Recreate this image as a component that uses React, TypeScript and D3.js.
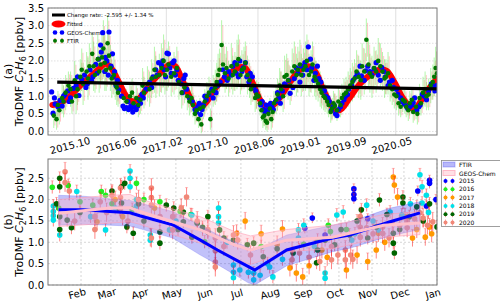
import React from 'react'
import * as d3 from 'd3'

// ---------- panel (a): time series ----------
const trendYears = [2015.51, 2020.94]
const trendValues = [1.4, 1.21]
const trendLabel = 'Change rate: -2.595 +/- 1.34 %'

const yearTicks = [2015.75, 2016.41, 2017.07, 2017.72, 2018.38, 2019.04, 2019.7, 2020.35]
const yearTickLabels = ['2015.10', '2016.06', '2017.02', '2017.10', '2018.06', '2019.01', '2019.09', '2020.05']
const ticksA = [0, 0.5, 1, 1.5, 2, 2.5, 3, 3.5]

// fitted curve [decimal year, ppbv]
const fitted: [number, number][] = [
  [2015.44, 0.75], [2015.55, 0.8], [2015.69, 1.0], [2015.84, 1.3], [2015.98, 1.55], [2016.12, 1.8],
  [2016.2, 1.92], [2016.28, 1.8], [2016.38, 1.45], [2016.48, 1.05], [2016.55, 0.88], [2016.62, 0.85],
  [2016.69, 0.95], [2016.84, 1.35], [2016.98, 1.65], [2017.12, 1.9], [2017.2, 1.85], [2017.3, 1.45],
  [2017.41, 0.95], [2017.48, 0.72], [2017.55, 0.68], [2017.65, 0.85], [2017.76, 1.2], [2017.9, 1.5],
  [2017.98, 1.65], [2018.12, 1.82], [2018.2, 1.8], [2018.3, 1.4], [2018.41, 0.9], [2018.5, 0.7],
  [2018.58, 0.72], [2018.69, 0.95], [2018.84, 1.4], [2018.98, 1.75], [2019.1, 1.85], [2019.2, 1.7],
  [2019.3, 1.25], [2019.41, 0.8], [2019.5, 0.58], [2019.58, 0.65], [2019.69, 0.95], [2019.84, 1.35],
  [2019.98, 1.6], [2020.12, 1.75], [2020.22, 1.72], [2020.33, 1.4], [2020.45, 0.95], [2020.55, 0.7],
  [2020.62, 0.64], [2020.72, 0.9], [2020.84, 1.25], [2020.94, 1.5]
]

// GEOS-Chem [decimal year, ppbv]
const geosChem: [number, number][] = [
  [2015.43, 1.12], [2015.45, 0.52], [2015.48, 0.78], [2015.52, 0.7], [2015.55, 0.88], [2015.58, 0.72],
  [2015.62, 1.05], [2015.66, 1.15], [2015.7, 0.95], [2015.74, 1.22], [2015.78, 1.3], [2015.82, 1.02],
  [2015.86, 1.48], [2015.9, 1.6], [2015.94, 1.35], [2015.98, 1.75], [2016.02, 1.55], [2016.06, 1.9],
  [2016.1, 2.05], [2016.13, 2.45], [2016.16, 2.8], [2016.19, 1.7], [2016.22, 2.0], [2016.25, 2.82],
  [2016.28, 1.85], [2016.31, 1.55], [2016.35, 1.3], [2016.39, 1.18], [2016.43, 1.0], [2016.47, 0.65],
  [2016.5, 0.68], [2016.53, 0.62], [2016.56, 0.72], [2016.59, 0.55], [2016.62, 0.7], [2016.66, 0.72],
  [2016.7, 0.8], [2016.74, 0.95], [2016.78, 1.2], [2016.83, 1.4], [2016.88, 1.55], [2016.92, 1.75],
  [2016.96, 1.95], [2017.0, 1.88], [2017.04, 1.75], [2017.08, 2.22], [2017.12, 1.8], [2017.16, 1.95],
  [2017.2, 1.6], [2017.24, 1.45], [2017.28, 1.35], [2017.32, 1.5], [2017.36, 1.2], [2017.4, 0.95],
  [2017.44, 0.85], [2017.48, 0.62], [2017.52, 0.7], [2017.56, 0.48], [2017.6, 0.75], [2017.64, 0.9],
  [2017.68, 1.05], [2017.72, 1.2], [2017.78, 1.1], [2017.84, 1.4], [2017.9, 1.55], [2017.96, 1.7],
  [2018.02, 1.85], [2018.07, 1.65], [2018.12, 2.0], [2018.17, 1.8], [2018.22, 1.55], [2018.27, 1.65],
  [2018.32, 1.25], [2018.37, 1.0], [2018.42, 0.75], [2018.46, 0.62], [2018.5, 0.75], [2018.54, 0.68],
  [2018.58, 0.7], [2018.63, 0.85], [2018.68, 0.95], [2018.73, 1.15], [2018.78, 1.3], [2018.84, 1.08],
  [2018.9, 1.5], [2018.95, 1.65], [2019.0, 1.85], [2019.05, 1.95], [2019.1, 2.4], [2019.15, 1.8],
  [2019.2, 1.65], [2019.25, 1.5], [2019.3, 1.2], [2019.35, 1.0], [2019.4, 0.85], [2019.45, 0.7],
  [2019.49, 0.5], [2019.53, 0.62], [2019.58, 0.8], [2019.63, 1.0], [2019.68, 1.2], [2019.74, 1.45],
  [2019.8, 1.65], [2019.86, 1.58], [2019.92, 1.72], [2019.98, 1.7], [2020.04, 1.78], [2020.1, 1.6],
  [2020.15, 1.82], [2020.2, 1.55], [2020.26, 1.4], [2020.32, 1.25], [2020.38, 1.05], [2020.44, 0.85],
  [2020.5, 0.72], [2020.55, 0.7], [2020.6, 0.82], [2020.65, 0.6], [2020.7, 0.75], [2020.76, 1.0],
  [2020.82, 1.15], [2020.88, 1.25], [2020.93, 1.3],
  [2015.47, 0.95], [2015.6, 1.0], [2015.68, 0.85], [2015.8, 1.55], [2015.92, 1.25], [2016.0, 1.45],
  [2016.08, 1.65], [2016.14, 2.25], [2016.2, 2.1], [2016.24, 1.6], [2016.3, 2.2], [2016.33, 1.7],
  [2016.37, 1.45], [2016.45, 0.72], [2016.52, 0.85], [2016.58, 0.68], [2016.64, 0.62], [2016.68, 0.9],
  [2016.72, 1.05], [2016.86, 1.25], [2016.94, 1.6], [2017.02, 2.0], [2017.06, 1.55], [2017.1, 2.2],
  [2017.14, 1.65], [2017.18, 2.0], [2017.22, 1.75], [2017.3, 1.1], [2017.34, 1.6], [2017.5, 0.55],
  [2017.54, 0.8], [2017.58, 0.62], [2017.62, 1.0], [2017.74, 0.95], [2017.8, 1.3], [2017.88, 1.75],
  [2017.94, 1.45], [2018.0, 1.6], [2018.05, 1.95], [2018.1, 1.55], [2018.15, 1.7], [2018.2, 1.95],
  [2018.25, 1.4], [2018.3, 1.55], [2018.35, 1.15], [2018.44, 0.85], [2018.48, 0.55], [2018.52, 0.6],
  [2018.56, 0.8], [2018.6, 0.62], [2018.66, 1.1], [2018.7, 0.8], [2018.76, 1.35], [2018.82, 1.45],
  [2018.88, 1.25], [2018.93, 1.8], [2018.98, 1.4], [2019.02, 1.6], [2019.08, 1.75], [2019.13, 2.05],
  [2019.18, 1.45], [2019.23, 1.85], [2019.28, 1.4], [2019.33, 1.15], [2019.38, 0.95], [2019.43, 0.6],
  [2019.47, 0.75], [2019.51, 0.45], [2019.56, 0.7], [2019.61, 0.9], [2019.66, 1.05], [2019.72, 1.3],
  [2019.78, 1.55], [2019.84, 1.85], [2019.9, 1.45], [2019.95, 1.85], [2020.01, 1.6], [2020.07, 1.95],
  [2020.13, 1.45], [2020.18, 1.7], [2020.24, 1.3], [2020.3, 1.45], [2020.36, 1.2], [2020.42, 0.95],
  [2020.47, 0.78], [2020.52, 0.65], [2020.58, 0.75], [2020.62, 0.95], [2020.68, 0.7], [2020.73, 1.05],
  [2020.79, 0.9], [2020.86, 1.35], [2020.91, 1.15]
]

// FTIR [decimal year, ppbv, error]
const ftir: [number, number, number][] = [
  [2015.46, 0.45, 0.35], [2015.5, 0.35, 0.3], [2015.54, 0.6, 0.4], [2015.58, 0.95, 0.45], [2015.63, 1.1, 0.5],
  [2015.67, 1.3, 0.4], [2015.72, 0.85, 0.35], [2015.76, 1.45, 0.55], [2015.8, 1.2, 0.45], [2015.84, 1.55, 0.5],
  [2015.88, 1.35, 0.6], [2015.93, 1.7, 0.55], [2015.97, 1.85, 0.65], [2016.01, 2.2, 0.6], [2016.05, 1.6, 0.5],
  [2016.09, 2.05, 0.7], [2016.13, 1.9, 0.55], [2016.17, 2.35, 0.8], [2016.21, 1.75, 0.6], [2016.25, 2.15, 0.7],
  [2016.29, 1.5, 0.55], [2016.34, 1.35, 0.45], [2016.38, 1.1, 0.4], [2016.46, 0.95, 0.35], [2016.55, 1.0, 0.35],
  [2016.6, 0.8, 0.3], [2016.64, 0.95, 0.35], [2016.7, 0.9, 0.4], [2016.75, 1.1, 0.45], [2016.8, 1.35, 0.5],
  [2016.86, 1.5, 0.55], [2016.92, 1.55, 0.6], [2017.0, 1.8, 0.7], [2017.05, 1.6, 0.55], [2017.1, 1.9, 0.65],
  [2017.18, 1.65, 0.6], [2017.25, 1.4, 0.5], [2017.33, 1.25, 0.45], [2017.4, 0.85, 0.4], [2017.45, 0.75, 0.35],
  [2017.5, 0.6, 0.3], [2017.53, 0.35, 0.25], [2017.57, 0.2, 0.25], [2017.6, 0.7, 0.35], [2017.65, 1.0, 0.4],
  [2017.7, 0.35, 0.3], [2017.74, 1.15, 0.45], [2017.79, 1.4, 0.55], [2017.83, 1.75, 0.6], [2017.86, 2.45, 0.7],
  [2017.91, 1.65, 0.55], [2017.96, 1.5, 0.5], [2018.0, 1.85, 0.65], [2018.05, 1.7, 0.55], [2018.1, 2.05, 0.7],
  [2018.15, 1.75, 0.55], [2018.2, 1.95, 0.6], [2018.26, 1.45, 0.5], [2018.31, 1.3, 0.45], [2018.36, 1.05, 0.4],
  [2018.41, 0.8, 0.35], [2018.45, 0.4, 0.3], [2018.49, 0.3, 0.25], [2018.53, 0.5, 0.3], [2018.57, 0.35, 0.3],
  [2018.61, 0.8, 0.35], [2018.66, 1.05, 0.45], [2018.71, 1.2, 0.5], [2018.76, 1.55, 0.6], [2018.81, 1.45, 0.55],
  [2018.87, 1.7, 0.65], [2018.93, 1.6, 0.6], [2018.98, 1.9, 0.7], [2019.03, 1.75, 0.6], [2019.08, 2.0, 0.75],
  [2019.14, 1.7, 0.6], [2019.19, 1.55, 0.55], [2019.24, 1.35, 0.5], [2019.29, 1.1, 0.45], [2019.34, 0.95, 0.4],
  [2019.39, 0.75, 0.35], [2019.44, 0.65, 0.3], [2019.48, 0.72, 0.35], [2019.53, 0.85, 0.4], [2019.58, 0.95, 0.4],
  [2019.64, 1.1, 0.45], [2019.7, 1.3, 0.5], [2019.76, 1.5, 0.55], [2019.82, 1.55, 0.6], [2019.87, 1.85, 0.65],
  [2019.93, 2.6, 0.6], [2019.98, 1.65, 0.55], [2020.04, 1.8, 0.6], [2020.1, 2.0, 0.65], [2020.16, 1.7, 0.55],
  [2020.21, 1.55, 0.5], [2020.27, 1.3, 0.45], [2020.33, 1.05, 0.4], [2020.39, 0.8, 0.35], [2020.45, 0.9, 0.35],
  [2020.5, 0.7, 0.3], [2020.55, 0.8, 0.35], [2020.6, 0.55, 0.3], [2020.64, 0.7, 0.35], [2020.69, 0.95, 0.4],
  [2020.74, 1.1, 0.45], [2020.79, 1.0, 0.4], [2020.85, 1.3, 0.5], [2020.9, 1.55, 0.55], [2020.94, 1.65, 0.6],
  [2015.52, 0.75, 0.4], [2015.6, 0.85, 0.45], [2015.7, 1.2, 0.5], [2015.78, 1.0, 0.5], [2015.86, 1.75, 0.6],
  [2015.95, 1.5, 0.6], [2016.03, 1.85, 0.7], [2016.11, 1.7, 0.6], [2016.15, 2.1, 0.75], [2016.19, 1.95, 0.8],
  [2016.23, 2.5, 0.8], [2016.27, 1.8, 0.65], [2016.32, 1.6, 0.55], [2016.36, 1.25, 0.5], [2016.5, 0.85, 0.35],
  [2016.58, 1.1, 0.4], [2016.67, 0.75, 0.35], [2016.73, 1.3, 0.5], [2016.83, 1.2, 0.5], [2016.9, 1.75, 0.65],
  [2016.97, 1.6, 0.6], [2017.03, 2.0, 0.75], [2017.08, 1.75, 0.6], [2017.14, 1.55, 0.55], [2017.22, 1.8, 0.6],
  [2017.29, 1.1, 0.45], [2017.37, 1.0, 0.4], [2017.43, 0.95, 0.4], [2017.48, 0.5, 0.3], [2017.55, 0.65, 0.3],
  [2017.62, 0.85, 0.35], [2017.68, 1.1, 0.45], [2017.77, 1.25, 0.5], [2017.81, 1.6, 0.6], [2017.88, 1.9, 0.65],
  [2017.93, 1.8, 0.6], [2018.02, 1.6, 0.55], [2018.08, 1.9, 0.7], [2018.13, 1.6, 0.55], [2018.18, 1.8, 0.6],
  [2018.23, 1.6, 0.55], [2018.28, 1.2, 0.45], [2018.34, 0.95, 0.4], [2018.39, 1.0, 0.4], [2018.43, 0.6, 0.3],
  [2018.47, 0.45, 0.3], [2018.51, 0.25, 0.25], [2018.55, 0.65, 0.3], [2018.59, 0.55, 0.3], [2018.64, 0.9, 0.4],
  [2018.69, 1.3, 0.5], [2018.74, 1.0, 0.45], [2018.79, 1.6, 0.6], [2018.84, 1.3, 0.55], [2018.9, 1.85, 0.7],
  [2018.95, 1.75, 0.65], [2019.0, 1.6, 0.6], [2019.06, 1.85, 0.7], [2019.11, 1.6, 0.6], [2019.16, 1.9, 0.65],
  [2019.21, 1.45, 0.55], [2019.27, 1.2, 0.5], [2019.32, 1.0, 0.4], [2019.37, 0.85, 0.35], [2019.42, 0.55, 0.3],
  [2019.46, 0.8, 0.35], [2019.51, 0.6, 0.3], [2019.56, 0.75, 0.35], [2019.61, 1.05, 0.45], [2019.67, 1.2, 0.5],
  [2019.73, 1.4, 0.55], [2019.79, 1.7, 0.6], [2019.85, 1.45, 0.55], [2019.9, 1.7, 0.65], [2019.96, 1.9, 0.7],
  [2020.01, 1.55, 0.6], [2020.07, 1.7, 0.6], [2020.13, 1.85, 0.65], [2020.19, 1.5, 0.55], [2020.24, 1.65, 0.6],
  [2020.3, 1.2, 0.45], [2020.36, 1.0, 0.4], [2020.42, 0.7, 0.3], [2020.48, 0.85, 0.35], [2020.53, 0.6, 0.3],
  [2020.58, 0.9, 0.35], [2020.66, 0.5, 0.3], [2020.71, 0.8, 0.35], [2020.77, 1.2, 0.5], [2020.82, 1.05, 0.45],
  [2020.88, 1.4, 0.5], [2020.92, 1.8, 0.6]
]

// ---------- panel (b): seasonal cycle ----------
const monthTicks = [31, 59, 90, 120, 151, 181, 212, 243, 273, 304, 334, 365]
const monthLabels = ['Feb', 'Mar', 'Apr', 'May', 'Jun', 'Jul', 'Aug', 'Sep', 'Oct', 'Nov', 'Dec', 'Jan']
const ticksB = [0, 0.5, 1, 1.5, 2, 2.5]

const ftirDoy = [10, 33, 58, 77, 86, 117, 143, 159, 188, 194, 224, 267, 283, 321, 349]
const ftirMean = [1.76, 1.76, 1.72, 1.69, 1.62, 1.41, 1.05, 0.82, 0.43, 0.35, 0.82, 1.1, 1.17, 1.48, 1.69]
const ftirUpper = [2.1, 2.08, 2.02, 1.98, 1.92, 1.72, 1.4, 1.18, 0.88, 0.8, 1.17, 1.4, 1.48, 1.8, 1.95]
const ftirLower = [1.4, 1.42, 1.4, 1.38, 1.32, 1.1, 0.7, 0.48, 0.05, 0.0, 0.45, 0.78, 0.86, 1.15, 1.3]

const gcDoy = [10, 58, 77, 86, 117, 143, 175, 190, 224, 267, 315, 349]
const gcMean = [1.68, 1.8, 1.81, 1.72, 1.48, 1.29, 0.94, 0.82, 1.05, 1.12, 1.4, 1.45]
const gcUpper = [2.0, 2.1, 2.12, 2.02, 1.78, 1.6, 1.25, 1.15, 1.3, 1.4, 1.65, 1.72]
const gcLower = [1.37, 1.45, 1.48, 1.42, 1.18, 0.98, 0.62, 0.48, 0.78, 0.85, 1.12, 1.18]

// [day of year, ppbv]
const obs2015: [number, number][] = [
  [241, 1.33], [248, 1.57], [260, 1.17], [287, 2.25], [287, 2.12], [287, 2.02], [300, 1.55],
  [347, 2.2], [355, 1.85], [358, 2.45], [358, 2.38], [364, 2.0]
]
const obs2016: [number, number][] = [
  [4, 2.29], [19, 2.33], [30, 1.95], [42, 1.87], [50, 2.19], [54, 2.1], [79, 1.77], [83, 2.38],
  [105, 1.95], [124, 1.72], [134, 1.65], [147, 1.01], [200, 0.9], [253, 1.05], [263, 1.4], [265, 1.25], [280, 1.3],
  [10, 1.8], [60, 1.9], [90, 2.0], [140, 1.45], [240, 0.95]
]
const obs2017: [number, number][] = [
  [46, 1.48], [63, 2.0], [177, 1.21], [185, 1.5], [220, 1.31], [227, 0.4], [233, 0.28], [239, 0.19],
  [257, 0.82], [262, 0.65], [280, 0.35], [308, 0.82], [310, 1.21], [324, 2.53], [325, 2.34], [328, 2.06],
  [342, 1.1], [354, 1.12], [358, 1.36], [360, 1.2],
  [70, 1.6], [100, 1.8], [200, 1.2], [215, 0.95], [245, 0.45], [290, 0.7], [300, 0.55], [316, 1.0], [335, 1.6], [346, 1.3]
]
const obs2018: [number, number][] = [
  [5, 1.85], [5, 1.72], [5, 1.62], [5, 1.52], [11, 1.17], [27, 2.19], [54, 1.29], [77, 2.67], [77, 2.5],
  [77, 2.3], [83, 2.0], [83, 1.85], [96, 1.17], [96, 1.05], [114, 1.29], [135, 1.64], [160, 1.8], [160, 1.6],
  [160, 1.45], [174, 0.47], [174, 0.3], [174, 0.17], [188, 0.3], [193, 0.28], [193, 0.12], [199, 0.23],
  [206, 0.5], [208, 0.42], [211, 0.19], [235, 1.29], [235, 1.1], [260, 0.28], [260, 0.16], [271, 1.64],
  [277, 1.71], [285, 1.05], [299, 1.87], [310, 1.29], [321, 1.71], [332, 1.64], [349, 2.58], [351, 2.3], [351, 1.92],
  [40, 1.6], [63, 1.8], [120, 1.5], [145, 1.3], [168, 1.0], [180, 0.35], [220, 0.6], [240, 1.4], [250, 0.9],
  [288, 1.2], [305, 1.5], [340, 1.9], [355, 2.1], [357, 1.7]
]
const obs2019: [number, number][] = [
  [11, 2.5], [11, 2.3], [11, 1.6], [11, 1.3], [18, 1.52], [22, 1.34], [69, 2.3], [69, 1.92], [67, 1.76],
  [72, 2.38], [74, 1.36], [80, 1.21], [105, 1.24], [105, 0.98], [111, 1.87], [127, 1.71], [127, 1.48],
  [135, 1.12], [140, 1.45], [150, 1.6], [150, 1.24], [161, 1.29], [174, 1.05], [187, 0.94], [193, 0.98],
  [202, 0.66], [252, 0.52], [253, 0.82], [269, 0.94], [283, 1.17], [294, 1.76], [308, 1.36], [311, 1.99],
  [324, 1.21], [324, 0.98], [325, 0.75], [333, 2.06], [333, 1.92], [339, 1.6], [346, 1.83], [365, 1.36],
  [8, 1.9], [30, 1.7], [60, 2.2], [85, 1.9], [90, 1.5], [118, 1.8], [122, 1.3], [145, 1.35], [165, 1.1],
  [215, 0.85], [230, 0.75], [260, 1.05], [275, 1.3], [290, 1.5], [300, 1.1], [318, 1.65], [330, 1.3], [352, 1.5], [358, 1.9]
]
const obs2020: [number, number][] = [
  [16, 2.65], [16, 2.4], [44, 1.6], [44, 1.3], [49, 1.95], [68, 2.27], [68, 2.05], [68, 1.8], [97, 2.27],
  [97, 2.05], [97, 1.87], [97, 1.1], [117, 1.6], [117, 1.29], [130, 2.06], [157, 1.1], [157, 0.8], [157, 0.54],
  [157, 0.42], [174, 1.17], [178, 1.05], [229, 0.82], [229, 0.59], [236, 0.75], [266, 0.9], [266, 0.59],
  [279, 0.82], [279, 0.59], [284, 0.7], [293, 1.6], [293, 1.35], [293, 1.12], [299, 1.34], [314, 1.36],
  [314, 1.21], [323, 1.45], [337, 1.48], [337, 1.34], [349, 1.69], [352, 1.57], [361, 1.48],
  [20, 2.2], [25, 1.5], [55, 1.7], [60, 2.1], [75, 1.5], [85, 2.0], [105, 1.6], [125, 1.8], [140, 1.5],
  [150, 1.3], [165, 0.9], [190, 0.7], [245, 0.65], [255, 0.55], [272, 0.7], [286, 0.6], [305, 1.2],
  [320, 1.1], [330, 1.4], [344, 1.55], [356, 1.4]
]
const yearLabels = ['2015', '2016', '2017', '2018', '2019', '2020']
const yearSeries = [obs2015, obs2016, obs2017, obs2018, obs2019, obs2020]
const yearErrors = [0.12, 0.15, 0.2, 0.15, 0.15, 0.22]
const yearColors = ['#0000ff', '#22ee22', '#ff9900', '#00e0e8', '#006400', '#f08878']

const font = 'DejaVu Sans, sans-serif'

const YLabel = ({ x, y, tag }: { x: number; y: number; tag: string }) => (
  <g transform={`translate(${x},${y}) rotate(-90)`} fontFamily={font} fill='#000'>
    <text x={0} y={-11} fontSize={11} textAnchor='middle'>{tag}</text>
    <text x={0} y={0} fontSize={11} textAnchor='middle'>
      TroDMF <tspan fontStyle='italic'>C</tspan>
      <tspan fontSize={8} dy={3}>2</tspan>
      <tspan fontStyle='italic' dy={-3}>H</tspan>
      <tspan fontSize={8} dy={3}>6</tspan>
      <tspan dy={-3}> [ppbv]</tspan>
    </text>
  </g>
)

const App = () => {
  const L = 48
  const R = 437
  // panel a
  const aTop = 8
  const aBot = 135
  const xa = d3.scaleLinear().domain([2015.378, 2020.94]).range([L, R])
  const ya = d3.scaleLinear().domain([-0.1, 3.5]).range([aBot, aTop])
  const fitLine = d3.line<[number, number]>().x(d => xa(d[0])).y(d => ya(d[1])).curve(d3.curveCatmullRom)
  // panel b
  const bTop = 159
  const bBot = 285
  const xb = d3.scaleLinear().domain([0, 365]).range([L, R])
  const yb = d3.scaleLinear().domain([0, 2.95]).range([bBot, bTop])
  const band = (doy: number[], lo: number[], hi: number[]) =>
    d3.area<number>().x(i => xb(doy[i])).y0(i => yb(lo[i])).y1(i => yb(hi[i]))(d3.range(doy.length)) || ''
  const mline = (doy: number[], v: number[]) =>
    d3.line<number>().x(i => xb(doy[i])).y(i => yb(v[i]))(d3.range(doy.length)) || ''

  return (
    <svg width={500} height={304} style={{ position: 'absolute', left: 0, top: 0, background: '#fff' }}>
      <defs>
        <clipPath id='clipA'><rect x={L} y={aTop} width={R - L} height={aBot - aTop} /></clipPath>
        <clipPath id='clipB'><rect x={L} y={bTop} width={R - L} height={bBot - bTop} /></clipPath>
      </defs>

      {/* ---------- panel (a) ---------- */}
      <rect x={L} y={aTop} width={R - L} height={aBot - aTop} fill='#fff' />
      {ticksA.map(t => (
        <line key={'ga' + t} x1={L} x2={R} y1={ya(t)} y2={ya(t)} stroke='#d8d8d8' strokeWidth={0.8} strokeDasharray='1.5,1.5' />
      ))}
      {yearTicks.map(t => (
        <line key={'gv' + t} x1={xa(t)} x2={xa(t)} y1={aTop} y2={aBot} stroke='#d8d8d8' strokeWidth={0.8} />
      ))}
      <g clipPath='url(#clipA)'>
        {ftir.map((d, i) => (
          <g key={'fe' + i}>
            <line x1={xa(d[0]) + 1.2} x2={xa(d[0]) + 1.2} y1={ya(d[1] - d[2] * 0.8)} y2={ya(d[1] + d[2] * 0.8)} stroke='#ff3030' strokeOpacity={0.3} strokeWidth={0.9} />
            <line x1={xa(d[0])} x2={xa(d[0])} y1={ya(d[1] - d[2])} y2={ya(d[1] + d[2])} stroke='#66ee55' strokeOpacity={0.45} strokeWidth={1.1} />
          </g>
        ))}
        <path d={fitLine(fitted) || ''} fill='none' stroke='#ff0000' strokeWidth={6} strokeLinecap='round' strokeLinejoin='round' />
        {geosChem.map((d, i) => (
          <circle key={'gc' + i} cx={xa(d[0])} cy={ya(d[1])} r={2.6} fill='#0000ff' />
        ))}
        {ftir.map((d, i) => (
          <circle key={'fp' + i} cx={xa(d[0])} cy={ya(d[1])} r={2.3} fill='#007700' />
        ))}
        <line x1={xa(trendYears[0])} x2={xa(trendYears[1])} y1={ya(trendValues[0])} y2={ya(trendValues[1])} stroke='#000' strokeWidth={3.2} />
      </g>
      <rect x={L} y={aTop} width={R - L} height={aBot - aTop} fill='none' stroke='#777' strokeWidth={1} />
      {ticksA.map(t => (
        <text key={'ta' + t} x={L - 4} y={ya(t) + 3.5} fontSize={10} fontFamily={font} textAnchor='end'>{t.toFixed(1)}</text>
      ))}
      {yearTicks.map((t, i) => (
        <text key={'tx' + t} transform={`translate(${xa(t) - 3},${149}) rotate(-15)`} fontSize={10} fontFamily={font} textAnchor='middle'>
          {yearTickLabels[i]}
        </text>
      ))}
      <YLabel x={23} y={(aTop + aBot) / 2} tag='(a)' />

      {/* legend (a) */}
      <g fontFamily={font} fontSize={5.5}>
        <line x1={52} x2={65} y1={15} y2={15} stroke='#000' strokeWidth={3} />
        <text x={67} y={17}>{trendLabel}</text>
        <ellipse cx={58.5} cy={24} rx={7} ry={3.5} fill='#ff0000' />
        <text x={67} y={26}>Fitted</text>
        <circle cx={55} cy={32.5} r={2.3} fill='#0000ff' />
        <circle cx={62} cy={32.5} r={2.3} fill='#0000ff' />
        <text x={67} y={34.5}>GEOS-Chem</text>
        <line x1={55} x2={55} y1={38} y2={43.5} stroke='#ff6030' strokeWidth={0.9} />
        <line x1={62} x2={62} y1={38} y2={43.5} stroke='#ff6030' strokeWidth={0.9} />
        <circle cx={55} cy={40.7} r={2} fill='#007700' />
        <circle cx={62} cy={40.7} r={2} fill='#007700' />
        <text x={67} y={42.7}>FTIR</text>
      </g>

      {/* ---------- panel (b) ---------- */}
      {ticksB.map(t => (
        <line key={'gb' + t} x1={L} x2={R} y1={yb(t)} y2={yb(t)} stroke='#cccccc' strokeWidth={0.8} strokeDasharray='2,2' />
      ))}
      {monthTicks.map(t => (
        <line key={'gm' + t} x1={xb(t)} x2={xb(t)} y1={bTop} y2={bBot} stroke='#cccccc' strokeWidth={0.8} strokeDasharray='2,2' />
      ))}
      <g clipPath='url(#clipB)'>
        {yearSeries.map((s, k) => (
          <g key={'ys' + k}>
            {s.map((d, i) => (
              <g key={i}>
                <line x1={xb(d[0])} x2={xb(d[0])} y1={yb(d[1] - yearErrors[k])} y2={yb(d[1] + yearErrors[k])} stroke='#ff2020' strokeOpacity={0.55} strokeWidth={1} />
                <line x1={xb(d[0]) - 1.5} x2={xb(d[0]) + 1.5} y1={yb(d[1] + yearErrors[k])} y2={yb(d[1] + yearErrors[k])} stroke='#ff2020' strokeOpacity={0.4} strokeWidth={0.7} />
                <circle cx={xb(d[0])} cy={yb(d[1])} r={2.8} fill={yearColors[k]} />
              </g>
            ))}
          </g>
        ))}
        <path d={band(ftirDoy, ftirLower, ftirUpper)} fill='#3333ee' fillOpacity={0.3} stroke='#3333ee' strokeOpacity={0.25} strokeWidth={0.8} />
        <path d={band(gcDoy, gcLower, gcUpper)} fill='#ffb6c8' fillOpacity={0.4} stroke='#ff9fb5' strokeOpacity={0.6} strokeWidth={1} />
        <path d={mline(ftirDoy, ftirMean)} fill='none' stroke='#0000ff' strokeWidth={3} />
        <path d={mline(gcDoy, gcMean)} fill='none' stroke='#ffc0cb' strokeWidth={3} />
      </g>
      <rect x={L} y={bTop} width={R - L} height={bBot - bTop} fill='none' stroke='#777' strokeWidth={1} />
      {ticksB.map(t => (
        <text key={'tb' + t} x={L - 4} y={yb(t) + 3.5} fontSize={10} fontFamily={font} textAnchor='end'>{t.toFixed(1)}</text>
      ))}
      {monthTicks.map((t, i) => (
        <text key={'tm' + t} transform={`translate(${xb(t) - 3},${297}) rotate(-15)`} fontSize={10} fontFamily={font} textAnchor='middle'>
          {monthLabels[i]}
        </text>
      ))}
      <YLabel x={23} y={(bTop + bBot) / 2} tag='(b)' />

      {/* legend (b) */}
      <g fontFamily={font} fontSize={6}>
        <rect x={441.5} y={160.5} width={62} height={66} fill='#fff' stroke='#888' strokeWidth={0.8} />
        <rect x={443} y={162} width={12} height={5} fill='#3333ee' fillOpacity={0.35} stroke='#3333ee' strokeOpacity={0.3} />
        <text x={459} y={167}>FTIR</text>
        <rect x={443} y={170.5} width={12} height={5} fill='#ffc0cb' fillOpacity={0.5} stroke='#ff9fb5' strokeOpacity={0.7} />
        <text x={459} y={175.5}>GEOS-Chem</text>
        {yearLabels.map((lab, k) => {
          const yy = 181 + k * 8.3
          return (
            <g key={'lg' + lab}>
              {[445.5, 452.5].map(cx => (
                <g key={cx}>
                  <line x1={cx} x2={cx} y1={yy - 3} y2={yy + 3} stroke='#ff2020' strokeOpacity={0.55} strokeWidth={0.8} />
                  <circle cx={cx} cy={yy} r={2} fill={yearColors[k]} />
                </g>
              ))}
              <text x={459} y={yy + 2}>{lab}</text>
            </g>
          )
        })}
      </g>
    </svg>
  )
}

export default App
